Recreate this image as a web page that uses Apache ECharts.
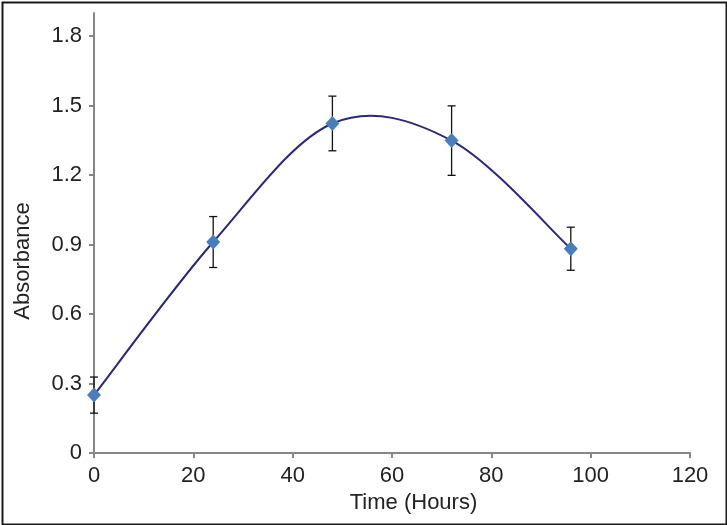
<!DOCTYPE html>
<html>
<head>
<meta charset="utf-8">
<script src="https://cdn.jsdelivr.net/npm/echarts@6/dist/echarts.min.js"></script>
<style>html,body{margin:0;padding:0;background:#fff}#c{width:727px;height:525px}</style>
</head>
<body>
<div id="c"></div>
<script>
const timeHours = [0, 24, 48, 72, 96];
const absorbance = [0.25, 0.911, 1.423, 1.349, 0.882];
const errorAbs = [0.078, 0.11, 0.118, 0.15, 0.093];
const yTicks = [0, 0.3, 0.6, 0.9, 1.2, 1.5, 1.8];
const xTicks = [0, 20, 40, 60, 80, 100, 120];

const points = timeHours.map((t, i) => [t, absorbance[i]]);
const errData = timeHours.map((t, i) => [t, absorbance[i] - errorAbs[i], absorbance[i] + errorAbs[i]]);
const FONT = "'Liberation Sans', Arial, sans-serif";
const AXIS = '#868686';

const chart = echarts.init(document.getElementById('c'), null, {renderer: 'canvas'});
chart.setOption({
  animation: false,
  backgroundColor: '#fff',
  grid: {left: 94, right: 37, top: 13, bottom: 72, containLabel: false, outerBoundsMode: 'none'},
  xAxis: {
    type: 'value', min: 0, max: 120, interval: 20,
    name: 'Time (Hours)', nameLocation: 'middle', nameGap: 36,
    nameTextStyle: {fontFamily: FONT, fontSize: 22, color: '#222', padding: [0, 0, 0, 43]},
    axisLine: {show: true, lineStyle: {color: AXIS, width: 2}},
    axisTick: {show: true, inside: false, length: 5, lineStyle: {color: AXIS, width: 2}, customValues: xTicks},
    axisLabel: {fontFamily: FONT, fontSize: 22, color: '#222', margin: 12, customValues: xTicks},
    splitLine: {show: false}
  },
  yAxis: {
    type: 'value', min: 0, max: 1.9,
    name: 'Absorbance', nameLocation: 'middle', nameGap: 60,
    nameTextStyle: {fontFamily: FONT, fontSize: 22, color: '#222', padding: [0, 56, 0, 0]},
    axisLine: {show: true, lineStyle: {color: AXIS, width: 2}},
    axisTick: {show: true, inside: false, length: 5, lineStyle: {color: AXIS, width: 2}, customValues: yTicks},
    axisLabel: {fontFamily: FONT, fontSize: 22, color: '#222', margin: 12, customValues: yTicks,
      formatter: v => (Math.abs(v) < 1e-9 ? '0' : v.toFixed(1))},
    splitLine: {show: false}
  },
  graphic: [{
    type: 'rect', left: 0, top: 0, z: 100, silent: true,
    shape: {x: 1, y: 1, width: 724, height: 522},
    style: {fill: 'none', stroke: '#1a1a1a', lineWidth: 2}
  }],
  series: [
    {
      type: 'custom', z: 2,
      data: points,
      renderItem: function (params, api) {
        const i = params.dataIndex;
        if (i >= points.length - 1) return null;
        const P = k => api.coord(points[Math.max(0, Math.min(points.length - 1, k))]);
        const p0 = P(i - 1), p1 = P(i), p2 = P(i + 1), p3 = P(i + 2);
        const cp1 = [p1[0] + (p2[0] - p0[0]) / 6, p1[1] + (p2[1] - p0[1]) / 6];
        const cp2 = [p2[0] - (p3[0] - p1[0]) / 6, p2[1] - (p3[1] - p1[1]) / 6];
        return {
          type: 'bezierCurve',
          shape: {x1: p1[0], y1: p1[1], x2: p2[0], y2: p2[1], cpx1: cp1[0], cpy1: cp1[1], cpx2: cp2[0], cpy2: cp2[1]},
          style: {fill: null, stroke: '#28297A', lineWidth: 2}
        };
      }
    },
    {
      type: 'custom', z: 3,
      data: errData,
      renderItem: function (params, api) {
        const x = api.value(0);
        const lo = api.coord([x, api.value(1)]);
        const hi = api.coord([x, api.value(2)]);
        const hw = 4;
        const st = {stroke: '#111', lineWidth: 1.3};
        return {
          type: 'group',
          children: [
            {type: 'line', shape: {x1: lo[0], y1: lo[1], x2: hi[0], y2: hi[1]}, style: st},
            {type: 'line', shape: {x1: lo[0] - hw, y1: lo[1], x2: lo[0] + hw, y2: lo[1]}, style: st},
            {type: 'line', shape: {x1: hi[0] - hw, y1: hi[1], x2: hi[0] + hw, y2: hi[1]}, style: st}
          ]
        };
      }
    },
    {
      type: 'scatter', z: 4,
      data: points,
      symbol: 'diamond', symbolSize: [14, 15],
      itemStyle: {color: '#4A7EBB', opacity: 1}
    }
  ]
});
</script>
</body>
</html>
